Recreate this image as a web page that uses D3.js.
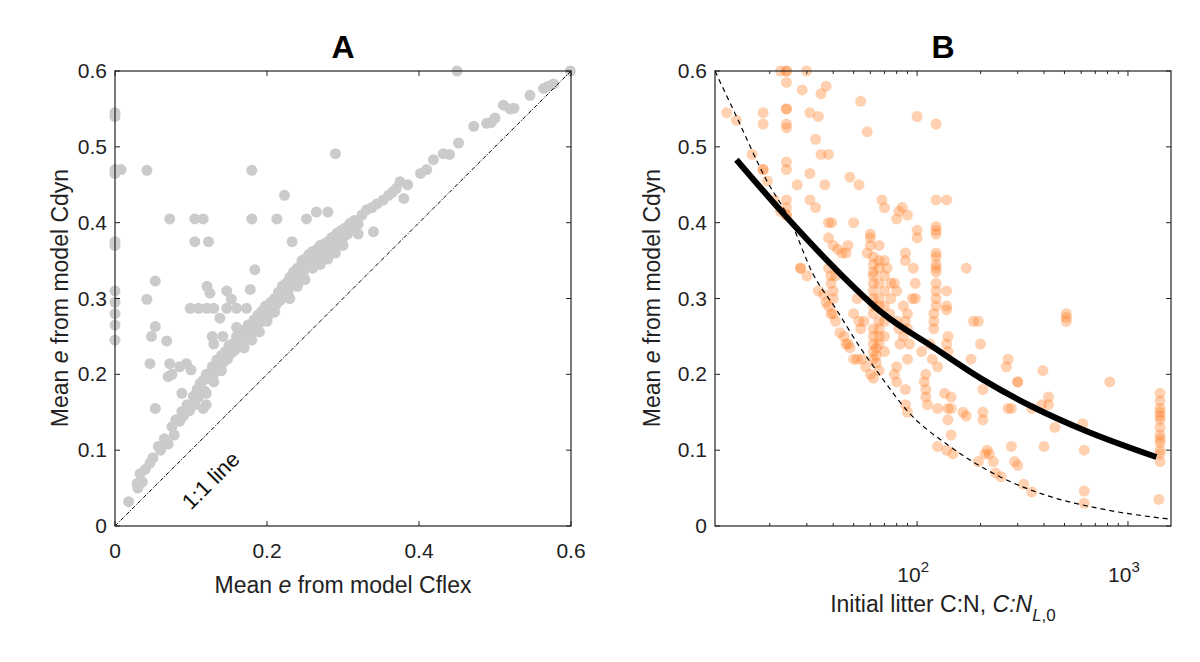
<!DOCTYPE html>
<html><head><meta charset="utf-8">
<script src="https://cdn.jsdelivr.net/npm/d3@7"></script>
<style>body{margin:0;background:#fff}text{font-family:"Liberation Sans",Arial,sans-serif}</style>
</head><body>
<svg id="chart" width="1200" height="662"></svg>
<script>
// panel A: Cflex vs Cdyn
const outliersA = [[0,0.545],[0,0.54],[0,0.47],[0,0.465],[0,0.375],[0,0.37],[0,0.31],[0,0.295],[0,0.28],[0,0.265],[0,0.245],
  [0.008,0.47],[0.042,0.469],[0.072,0.405],[0.105,0.405],[0.116,0.405],[0.105,0.375],[0.123,0.375],[0.053,0.323],[0.042,0.299],
  [0.053,0.263],[0.048,0.25],[0.068,0.244],[0.046,0.214],[0.072,0.214],[0.07,0.197],[0.053,0.155],[0.18,0.469],[0.18,0.405],
  [0.213,0.405],[0.223,0.436],[0.29,0.491],[0.45,0.6],[0.233,0.375],[0.184,0.338],[0.252,0.405],[0.265,0.414],[0.28,0.414],
  [0.121,0.316],[0.125,0.307],[0.147,0.31],[0.153,0.299],[0.099,0.287],[0.11,0.287],[0.121,0.287],[0.13,0.287],[0.147,0.287],
  [0.16,0.287],[0.173,0.287],[0.178,0.312],[0.138,0.274],[0.094,0.214],[0.1,0.206],[0.088,0.175],[0.34,0.388],[0.38,0.432],
  [0.075,0.2],[0.085,0.21],[0.128,0.25],[0.13,0.24],[0.116,0.155],[0.12,0.16],[0.142,0.25]];
const bandA = [[0.018,0.032],[0.029,0.056],[0.033,0.069],[0.03,0.05],[0.036,0.058],[0.046,0.083],[0.04,0.075],[0.05,0.09],
  [0.057,0.105],[0.06,0.1],[0.065,0.115],[0.07,0.108],[0.075,0.131],[0.078,0.12],[0.08,0.14],[0.085,0.138],[0.088,0.151],
  [0.09,0.145],[0.095,0.16],[0.098,0.152],[0.103,0.171],[0.105,0.16],[0.108,0.18],[0.11,0.17],[0.112,0.188],[0.116,0.192],
  [0.118,0.178],[0.12,0.2],[0.125,0.195],[0.128,0.21],[0.13,0.2],[0.134,0.219],[0.136,0.205],[0.14,0.225],[0.142,0.215],
  [0.145,0.23],[0.148,0.22],[0.15,0.238],[0.153,0.228],[0.156,0.241],[0.158,0.232],[0.16,0.25],[0.163,0.24],[0.165,0.255],
  [0.168,0.245],[0.17,0.258],[0.173,0.25],[0.175,0.265],[0.178,0.263],[0.18,0.255],[0.183,0.272],[0.185,0.262],[0.188,0.278],
  [0.19,0.268],[0.193,0.283],[0.195,0.272],[0.198,0.29],[0.2,0.289],[0.202,0.278],[0.205,0.295],[0.208,0.285],[0.21,0.3],
  [0.212,0.292],[0.215,0.308],[0.218,0.298],[0.22,0.316],[0.222,0.305],[0.225,0.32],[0.228,0.31],[0.23,0.328],[0.232,0.318],
  [0.235,0.335],[0.238,0.325],[0.24,0.34],[0.242,0.33],[0.244,0.342],[0.246,0.35],[0.248,0.335],[0.25,0.352],[0.252,0.342],
  [0.255,0.358],[0.258,0.348],[0.26,0.362],[0.262,0.352],[0.265,0.364],[0.268,0.355],[0.27,0.37],[0.272,0.36],[0.275,0.372],
  [0.278,0.362],[0.28,0.375],[0.283,0.368],[0.285,0.38],[0.287,0.381],[0.29,0.37],[0.292,0.386],[0.295,0.378],[0.298,0.39],
  [0.3,0.38],[0.303,0.393],[0.306,0.385],[0.309,0.399],[0.312,0.39],[0.315,0.403],[0.32,0.398],[0.325,0.41],[0.331,0.417],
  [0.338,0.42],[0.345,0.425],[0.353,0.43],[0.36,0.436],[0.365,0.44],[0.375,0.454],[0.37,0.445],[0.385,0.45],[0.402,0.465],
  [0.41,0.47],[0.419,0.483],[0.432,0.491],[0.44,0.49],[0.452,0.505],[0.472,0.527],[0.489,0.531],[0.5,0.538],[0.495,0.532],
  [0.511,0.555],[0.525,0.551],[0.52,0.55],[0.546,0.568],[0.564,0.577],[0.577,0.583],[0.57,0.58],[0.599,0.6],
  [0.16,0.262],[0.19,0.256],[0.2,0.27],[0.21,0.282],[0.23,0.3],[0.24,0.316],[0.26,0.34],[0.27,0.345],[0.28,0.352],[0.3,0.37],
  [0.32,0.385],[0.29,0.36],[0.25,0.325],[0.17,0.235],[0.18,0.245],[0.14,0.205],[0.13,0.19],[0.12,0.175]];
const pointsA = outliersA.concat(bandA);

// panel B: initial litter C:N vs Cdyn
const pointsB = [[12.5,0.545],[13.9,0.535],[16.5,0.49],[18.6,0.545],[18.6,0.53],[18.6,0.47],[18.6,0.47],[19.5,0.455],[21,0.43],
  [24,0.6],[24,0.6],[24,0.585],[24,0.55],[24,0.55],[24,0.53],[24,0.525],[24,0.48],[24,0.47],[24,0.43],[24,0.42],[24,0.41],[24,0.41],[22.5,0.415],[22.5,0.6],
  [29.9,0.6],[28.5,0.575],[31,0.545],[35,0.57],[37,0.58],[34,0.54],[33,0.51],[35,0.49],[38,0.49],[31,0.465],[27,0.45],[31,0.43],[33,0.42],
  [36.5,0.45],[38,0.40],[39.3,0.40],[38,0.38],[40,0.37],[42,0.365],[44,0.36],[46,0.36],[47,0.37],[50,0.4],[48,0.46],[53,0.45],[58,0.52],[54,0.56],
  [28,0.34],[28,0.34],[30,0.33],[34,0.31],[36,0.305],[37,0.295],[38,0.29],[39,0.28],[40,0.28],[41,0.27],[43,0.255],[45,0.25],[46,0.24],[47,0.24],[48,0.235],
  [50,0.22],[52,0.22],[55,0.22],[57,0.21],[60,0.2],[62,0.195],[38,0.34],[39,0.33],[39,0.32],[40,0.31],[41,0.33],[40,0.3],
  [52,0.3],[50,0.28],[53,0.27],[54,0.26],[56,0.27],[58,0.36],[60,0.37],[60,0.38],[60,0.385],[62,0.355],[62,0.345],[62,0.335],[62,0.33],
  [62,0.32],[62,0.31],[62,0.3],[62,0.29],[62,0.28],[62,0.26],[62,0.25],[62,0.24],[62,0.23],[62,0.22],[64,0.215],[64,0.225],[64,0.235],
  [66,0.37],[66,0.35],[66,0.34],[66,0.32],[66,0.3],[66,0.29],[66,0.27],[66,0.26],[66,0.25],[66,0.24],[66,0.205],[70,0.35],[70,0.33],
  [70,0.31],[70,0.29],[70,0.27],[70,0.25],[70,0.23],[70,0.42],[68,0.43],[72,0.34],[75,0.3],[75,0.32],[74,0.28],[78,0.32],[80,0.31],
  [80,0.27],[82,0.26],[83,0.24],[86,0.25],[88,0.27],[86,0.29],[90,0.28],[90,0.26],[92,0.24],[90,0.22],[95,0.3],[98,0.32],[96,0.34],
  [88,0.35],[88,0.36],[82,0.415],[85,0.42],[90,0.41],[80,0.405],[78,0.2],[80,0.21],[80,0.19],[88,0.18],[88,0.16],[90,0.15],[98,0.3],
  [100,0.39],[100,0.38],[100,0.54],[105,0.23],[108,0.19],[110,0.2],[110,0.18],[110,0.17],[112,0.16],[115,0.24],[118,0.22],[120,0.26],
  [120,0.27],[123,0.53],[123,0.43],[123,0.395],[123,0.39],[123,0.385],[123,0.36],[123,0.355],[123,0.345],[123,0.34],[123,0.335],
  [123,0.32],[123,0.31],[123,0.3],[123,0.29],[120,0.28],[125,0.21],[125,0.155],[138,0.43],[138,0.31],[138,0.29],[138,0.285],[140,0.25],
  [138,0.24],[140,0.23],[135,0.175],[140,0.155],[145,0.17],[145,0.155],[140,0.14],[145,0.12],[125,0.105],[138,0.1],[148,0.095],
  [165,0.15],[171,0.145],[171,0.34],[180,0.22],[185,0.27],[195,0.27],[200,0.24],[195,0.085],[205,0.15],[205,0.14],[205,0.18],[210,0.095],
  [215,0.1],[220,0.095],[230,0.085],[235,0.07],[250,0.065],[265,0.21],[270,0.22],[270,0.155],[280,0.155],[280,0.105],[290,0.085],
  [300,0.19],[300,0.19],[300,0.08],[320,0.055],[350,0.045],[350,0.155],[390,0.16],[395,0.205],[400,0.105],[420,0.17],[420,0.16],
  [450,0.13],[510,0.28],[510,0.27],[510,0.275],[610,0.135],[620,0.1],[620,0.046],[620,0.03],[820,0.19],
  [1420,0.175],[1420,0.165],[1420,0.155],[1420,0.15],[1420,0.145],[1420,0.14],[1420,0.13],[1420,0.12],[1420,0.115],[1420,0.11],
  [1420,0.1],[1420,0.095],[1420,0.085],[1400,0.035]];
const boundB = [[11,0.6],[13.9,0.54],[19.3,0.456],[25,0.403],[32,0.333],[41.5,0.285],[53.5,0.236],[69,0.193],[89,0.153],
  [143,0.105],[247,0.065],[425,0.039],[735,0.023],[1574,0.009]];
const fitB = [[13.9,0.483],[23.2,0.412],[40,0.342],[69,0.28],[119,0.236],[205,0.193],[354,0.157],[612,0.127],[1364,0.091]];
const yTicks = [0, 0.1, 0.2, 0.3, 0.4, 0.5, 0.6];
const xTicksA = [0, 0.2, 0.4, 0.6];

const svg = d3.select('#chart');
const plotTop = 71, plotBottom = 526;
const yScale = d3.scaleLinear().domain([0, 0.6]).range([plotBottom, plotTop]);
const xA = d3.scaleLinear().domain([0, 0.6]).range([115, 571]);
const xB = d3.scaleLog().domain([11, 1600]).range([715, 1171]);

function frame(x, xt, minor) {
  const g = svg.append('g');
  const [x0, x1] = x.range();
  yTicks.forEach(t => {
    const y = yScale(t);
    g.append('line').attr('x1', x0).attr('x2', x0 + 5).attr('y1', y).attr('y2', y).attr('stroke', '#222');
    g.append('line').attr('x1', x1).attr('x2', x1 - 5).attr('y1', y).attr('y2', y).attr('stroke', '#222');
    g.append('text').attr('x', x0 - 8).attr('y', y + 7).attr('text-anchor', 'end').attr('font-size', 21).attr('fill', '#222').text(t);
  });
  xt.forEach(t => {
    const px = x(t), len = minor && minor.indexOf(t) >= 0 ? 3 : 5;
    g.append('line').attr('x1', px).attr('x2', px).attr('y1', plotBottom).attr('y2', plotBottom - len).attr('stroke', '#222');
    g.append('line').attr('x1', px).attr('x2', px).attr('y1', plotTop).attr('y2', plotTop + len).attr('stroke', '#222');
  });
  g.append('rect').attr('x', x0).attr('y', plotTop).attr('width', x1 - x0).attr('height', plotBottom - plotTop)
    .attr('fill', 'none').attr('stroke', '#222').attr('stroke-width', 1.2);
  return g;
}

// panel A
const gA = svg.append('g');
gA.append('g').selectAll('circle').data(pointsA).join('circle')
  .attr('cx', d => xA(d[0])).attr('cy', d => yScale(d[1])).attr('r', 5.5).attr('fill', '#cbcbcb');
gA.append('line').attr('x1', xA(0)).attr('y1', yScale(0)).attr('x2', xA(0.6)).attr('y2', yScale(0.6))
  .attr('stroke', '#000').attr('stroke-width', 1).attr('stroke-dasharray', '4,1.5,1,1.5');
gA.append('text').attr('transform', `translate(${xA(0.1)},${yScale(0.02)}) rotate(-45)`)
  .attr('font-size', 22).attr('fill', '#111').text('1:1 line');
const fA = frame(xA, xTicksA);
xTicksA.forEach(t => fA.append('text').attr('x', xA(t)).attr('y', 558).attr('text-anchor', 'middle')
  .attr('font-size', 21).attr('fill', '#222').text(t));
svg.append('text').attr('x', 343).attr('y', 593).attr('text-anchor', 'middle').attr('font-size', 23).attr('fill', '#222')
  .html('Mean <tspan font-style="italic">e</tspan> from model Cflex');
svg.append('text').attr('transform', 'translate(68,298) rotate(-90)').attr('text-anchor', 'middle').attr('font-size', 23).attr('fill', '#222')
  .html('Mean <tspan font-style="italic">e</tspan> from model Cdyn');
svg.append('text').attr('x', 343).attr('y', 58).attr('text-anchor', 'middle').attr('font-size', 32).attr('font-weight', 'bold').text('A');

// panel B
const gB = svg.append('g');
gB.append('g').selectAll('circle').data(pointsB).join('circle')
  .attr('cx', d => xB(d[0])).attr('cy', d => yScale(d[1])).attr('r', 5.5).attr('fill', '#ff7a1f').attr('fill-opacity', 0.35);
const line = d3.line().x(d => xB(d[0])).y(d => yScale(d[1])).curve(d3.curveMonotoneX);
gB.append('path').datum(boundB).attr('d', line).attr('fill', 'none').attr('stroke', '#000').attr('stroke-width', 1.2).attr('stroke-dasharray', '5,4');
gB.append('path').datum(fitB).attr('d', line).attr('fill', 'none').attr('stroke', '#000').attr('stroke-width', 6);
const minorB = [20, 30, 40, 50, 60, 70, 80, 90, 200, 300, 400, 500, 600, 700, 800, 900];
const fB = frame(xB, minorB.concat([100, 1000]), minorB);
[[100, 2], [1000, 3]].forEach(([v, p]) => fB.append('text').attr('x', xB(v) - 4).attr('y', 582).attr('text-anchor', 'middle')
  .attr('font-size', 21).attr('fill', '#222').html(`10<tspan dy="-10" font-size="15">${p}</tspan>`));
svg.append('text').attr('x', 943).attr('y', 612).attr('text-anchor', 'middle').attr('font-size', 23).attr('fill', '#222')
  .html('Initial litter C:N, <tspan font-style="italic">C:N</tspan><tspan font-style="italic" font-size="17" dy="9">L</tspan><tspan font-size="17">,0</tspan>');
svg.append('text').attr('transform', 'translate(660,298) rotate(-90)').attr('text-anchor', 'middle').attr('font-size', 23).attr('fill', '#222')
  .html('Mean <tspan font-style="italic">e</tspan> from model Cdyn');
svg.append('text').attr('x', 943).attr('y', 58).attr('text-anchor', 'middle').attr('font-size', 32).attr('font-weight', 'bold').text('B');
</script>
</body></html>
